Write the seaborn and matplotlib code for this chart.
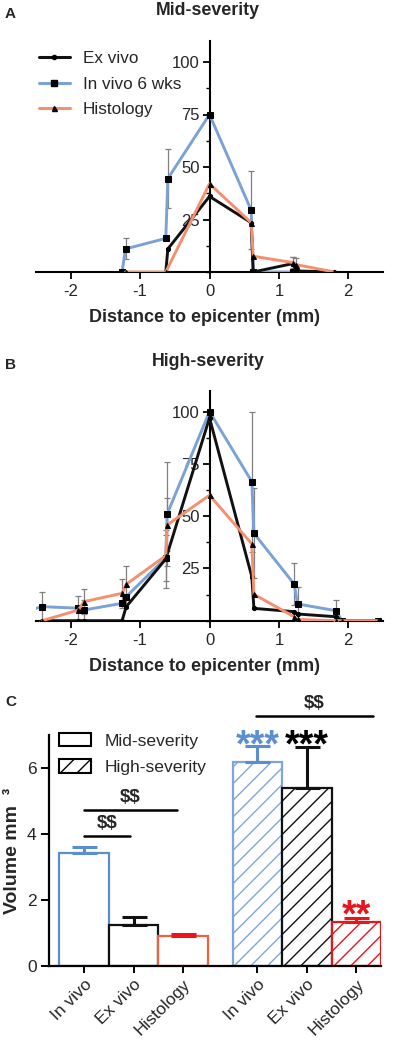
import numpy as np
import pandas as pd
import matplotlib
matplotlib.use("Agg")
import matplotlib.pyplot as plt
import seaborn as sns
from matplotlib.lines import Line2D
from matplotlib.patches import Patch
from matplotlib.ticker import MultipleLocator

# ---------------- data ----------------
# Panel A (mid-severity)
a_invivo_x = [-1.26, -1.21, -0.63, -0.60, 0.0, 0.60, 0.63, 1.20, 1.25]
a_invivo_y = [0, 11, 16, 44.5, 75, 29.5, 0, 0, 0]
a_invivo_e = [0, 5, 0, 14, 0, 18.5, 0, 0, 0]
a_exvivo_x = [-0.63, -0.60, 0.0, 0.60, 0.63, 1.20, 1.25, 1.80]
a_exvivo_y = [0, 11, 36, 23.5, 0, 4, 0.5, 0]
a_exvivo_e = [0, 0, 0, 0, 0, 3, 0, 0]
a_histo_x = [-1.21, -0.63, 0.0, 0.60, 0.63, 1.20, 1.25, 1.80]
a_histo_y = [0, 0, 42, 23.5, 7.5, 4.5, 3.5, 0]
a_histo_e = [0, 0, 0, 0, 0, 2.5, 3, 0]

# Panel B (high-severity)
b_invivo_x = [-2.55, -2.41, -1.89, -1.81, -1.26, -1.20, -0.63, -0.61, 0.0, 0.61, 0.64, 1.22, 1.27, 1.82, 1.91, 2.43]
b_invivo_y = [5.5, 6.7, 6.0, 5.1, 8.3, 11.5, 30, 51, 100, 66.5, 41.8, 17.5, 8, 4.8, 0, 0]
b_invivo_e = [0, 7, 0, 5, 0, 0, 11, 25, 0, 33.5, 21.5, 10, 8, 5, 0, 0]
b_exvivo_x = [-2.41, -1.89, -1.81, -1.26, -1.20, -0.63, 0.0, 0.61, 0.64, 1.22, 1.27, 1.82, 1.91, 2.43]
b_exvivo_y = [0, 0, 0, 0, 6.7, 29.5, 97, 21, 5.9, 4.3, 3.2, 1.9, 0, 0]
b_exvivo_e = [0, 0, 0, 0, 0, 14, 0, 0, 0, 0, 0, 0, 0, 0]
b_histo_x = [-2.41, -1.89, -1.81, -1.26, -1.20, -0.63, -0.61, 0.0, 0.61, 0.64, 1.22, 1.27, 1.82, 1.91, 2.43]
b_histo_y = [0, 5.1, 9.1, 13.1, 17.4, 31.1, 45.8, 60, 36.7, 12.6, 1.9, 0.6, 0, 0, 0]
b_histo_e = [0, 6.7, 6, 7, 9, 0, 12.7, 0, 0, 0, 0, 0, 0, 0, 0]

series_names = ["Ex vivo", "In vivo 6 wks", "Histology"]

# Panel C (volumes)
methods = ["In vivo", "Ex vivo", "Histology"]
severities = ["Mid-severity", "High-severity"]
vol_mid = [3.42, 1.25, 0.91]
vol_mid_err = [0.20, 0.24, 0.05]
vol_high = [6.17, 5.40, 1.34]
vol_high_err = [0.50, 1.23, 0.10]

# ---------------- style ----------------
sns.set_theme(style="ticks")
plt.rcParams["font.family"] = ["Liberation Sans", "DejaVu Sans"]
plt.rcParams["hatch.linewidth"] = 1.0

C_BLUE = "#7BA2D6"
C_ORANGE = "#F4906F"
C_BLACK = "#111111"
C_GREY = "#808080"

W, H = 397, 1041
fig = plt.figure(figsize=(W / 100, H / 100), dpi=100)


def fx(px):
    return px / W


def fy(py):
    return 1 - py / H


XLIM = (-2.5, 2.5)


def line_panel(ax, data):
    for (x, y, e), col, mk, ms in zip(
        data,
        [C_BLUE, C_BLACK, C_ORANGE],
        ["s", "o", "^"],
        [4, 3, 3.6],
    ):
        x = np.asarray(x, float)
        y = np.asarray(y, float)
        e = np.asarray(e, float)
        m = e > 0
        ax.errorbar(x[m], y[m], yerr=e[m], fmt="none", ecolor=C_GREY,
                    elinewidth=0.9, capsize=2.2, capthick=0.9, zorder=2)
        shown = [i for i, v in enumerate(x) if XLIM[0] <= v <= XLIM[1]]
        sns.lineplot(x=x, y=y, ax=ax, color=col, lw=2.1, marker=mk,
                     markersize=ms, markerfacecolor="black",
                     markeredgecolor="black", sort=False, estimator=None,
                     zorder=3, legend=False, markevery=shown)
    ax.set_xlim(*XLIM)
    ax.set_ylim(0, 110)
    ax.spines["left"].set_position(("data", 0))
    ax.spines["bottom"].set_position(("data", 0))
    ax.spines["top"].set_visible(False)
    ax.spines["right"].set_visible(False)
    for s in ("left", "bottom"):
        ax.spines[s].set_linewidth(1.5)
        ax.spines[s].set_color("black")
        ax.spines[s].set_zorder(1)
    ax.set_xticks([-2, -1, 0, 1, 2])
    ax.set_xticklabels(["-2", "-1", "0", "1", "2"])
    ax.set_yticks([25, 50, 75, 100])
    ax.yaxis.set_minor_locator(MultipleLocator(12.5))
    ax.tick_params(axis="both", which="major", direction="out", length=5,
                   width=1.3, labelsize=12, color="black", pad=2)
    ax.tick_params(axis="x", which="major", pad=4)
    ax.tick_params(axis="y", which="minor", direction="out", length=3,
                   width=1.0, color="black")
    ax.set_xlabel("")
    ax.set_ylabel("")
    ax.patch.set_alpha(0)


# Panel A
axA = fig.add_axes([fx(36), fy(272), fx(347), 231 / H])
line_panel(axA, [(a_invivo_x, a_invivo_y, a_invivo_e),
                 (a_exvivo_x, a_exvivo_y, a_exvivo_e),
                 (a_histo_x, a_histo_y, a_histo_e)])
handles = [
    Line2D([], [], color=C_BLACK, lw=2.2, marker="o", ms=3, mfc="black", mec="black"),
    Line2D([], [], color=C_BLUE, lw=2.2, marker="s", ms=4, mfc="black", mec="black"),
    Line2D([], [], color=C_ORANGE, lw=2.2, marker="^", ms=3.6, mfc="black", mec="black"),
]
fig.legend(handles, series_names, loc="upper left",
           bbox_to_anchor=(fx(39), fy(51)), frameon=False, fontsize=12.3,
           handlelength=1.8, handletextpad=0.75, labelspacing=0.62, borderpad=0,
           borderaxespad=0)

# Panel B
axB = fig.add_axes([fx(36), fy(620.7), fx(347), 230 / H])
line_panel(axB, [(b_invivo_x, b_invivo_y, b_invivo_e),
                 (b_exvivo_x, b_exvivo_y, b_exvivo_e),
                 (b_histo_x, b_histo_y, b_histo_e)])

# Titles / labels
fig.text(fx(208), fy(15), "Mid-severity", ha="center", va="baseline",
         fontsize=12.8, fontweight="bold")
fig.text(fx(208), fy(366), "High-severity", ha="center", va="baseline",
         fontsize=12.8, fontweight="bold")
fig.text(fx(205), fy(322), "Distance to epicenter (mm)", ha="center",
         va="baseline", fontsize=13, fontweight="bold")
fig.text(fx(205), fy(671), "Distance to epicenter (mm)", ha="center",
         va="baseline", fontsize=13, fontweight="bold")
for lab, yb in (("A", 18), ("B", 369), ("C", 706)):
    fig.text(fx(5), fy(yb), lab, ha="left", va="baseline", fontsize=11,
             fontweight="bold")

# Panel C
axC = fig.add_axes([fx(49), fy(966), fx(332), 231 / H])
pos = [0, 1, 2, 3.5, 4.5, 5.5]
df = pd.DataFrame({
    "pos": pos,
    "method": methods * 2,
    "severity": [severities[0]] * 3 + [severities[1]] * 3,
    "vol": vol_mid + vol_high,
    "err": vol_mid_err + vol_high_err,
})
bar_edges = ["#5A8ED0", "#111111", "#F2603E", "#7FA6DA", "#111111", "#E8161B"]
err_cols = ["#5A8ED0", "#111111", "#E8161B", "#5A8ED0", "#111111", "#E8161B"]
hatches = ["", "", "", "//", "//", "//"]
sns.barplot(data=df, x="pos", y="vol", native_scale=True, width=1.0,
            errorbar=None, color="white", linewidth=1.6, ax=axC)
for p, ec, h in zip(axC.patches, bar_edges, hatches):
    p.set_facecolor("white")
    p.set_edgecolor(ec)
    p.set_linewidth(1.6)
    p.set_hatch(h)
for xp, v, e, c in zip(df["pos"], df["vol"], df["err"], err_cols):
    axC.errorbar([xp], [v], yerr=[[0], [e]], fmt="none", ecolor=c,
                 elinewidth=2.2, capsize=9, capthick=2.2, zorder=4)
axC.set_xlim(-0.71, 6.0)
axC.set_ylim(0, 7)
axC.set_yticks([0, 2, 4, 6])
axC.set_xticks(pos)
axC.set_xticklabels(methods * 2, rotation=45, ha="right", va="top",
                    rotation_mode="anchor", fontsize=12.5)
axC.tick_params(axis="y", direction="out", length=6, width=1.4, labelsize=12.5,
                pad=3, color="black")
axC.tick_params(axis="x", direction="out", length=5, width=1.4, pad=2.5,
                color="black")
axC.spines["top"].set_visible(False)
axC.spines["right"].set_visible(False)
for s in ("left", "bottom"):
    axC.spines[s].set_linewidth(1.6)
    axC.spines[s].set_color("black")
axC.set_xlabel("")
axC.set_ylabel("Volume mm  \u00b3", fontsize=14, fontweight="bold", labelpad=4)

# legend for severity
leg_handles = [Patch(facecolor="white", edgecolor="black", lw=1.5),
               Patch(facecolor="white", edgecolor="black", lw=1.5, hatch="//")]
axC.legend(leg_handles, severities, loc="upper left",
           bbox_to_anchor=(fx(59), fy(733)), bbox_transform=fig.transFigure,
           frameon=False, fontsize=12.6, handlelength=1.8, handleheight=0.8,
           handletextpad=0.8, labelspacing=0.6, borderpad=0, borderaxespad=0)

# significance annotations
ann = dict(color="black", lw=1.8, clip_on=False)
axC.plot([0.0, 0.93], [3.93, 3.93], **ann)
axC.plot([0.0, 1.87], [4.73, 4.73], **ann)
axC.plot([3.48, 5.83], [7.58, 7.58], **ann)
axC.text(0.47, 4.05, "$$", ha="center", va="bottom", fontsize=13.5,
         fontweight="bold", parse_math=False)
axC.text(0.93, 4.85, "$$", ha="center", va="bottom", fontsize=13.5,
         fontweight="bold", parse_math=False)
axC.text(4.65, 7.70, "$$", ha="center", va="bottom", fontsize=13.5,
         fontweight="bold", clip_on=False, parse_math=False)
axC.text(3.5, 6.35, "***", ha="center", va="baseline", fontsize=27,
         fontweight="bold", color="#5B8FD3", clip_on=False)
axC.text(4.5, 6.35, "***", ha="center", va="baseline", fontsize=27,
         fontweight="bold", color="black", clip_on=False)
axC.text(5.5, 1.2, "**", ha="center", va="baseline", fontsize=27,
         fontweight="bold", color="#E8161B", clip_on=False)

fig.savefig("out.png", dpi=100)
